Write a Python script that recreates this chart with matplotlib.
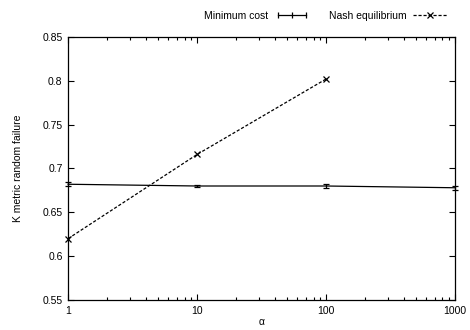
import numpy as np
import matplotlib.pyplot as plt
from matplotlib.ticker import FixedLocator, LogLocator, NullFormatter
from matplotlib.lines import Line2D
from matplotlib.legend_handler import HandlerLine2D

plt.rcParams['font.family'] = ['Liberation Sans', 'DejaVu Sans']
plt.rcParams['font.size'] = 7.5

# data
alpha_min = [1, 10, 100, 1000]
k_min = [0.682, 0.680, 0.680, 0.678]
k_min_err = [0.002, 0.0015, 0.002, 0.002]

alpha_nash = [1, 10, 100]
k_nash = [0.620, 0.716, 0.802]

yticks = [0.55, 0.6, 0.65, 0.7, 0.75, 0.8, 0.85]
ylabels = ['0.55', '0.6', '0.65', '0.7', '0.75', '0.8', '0.85']
xticks = [1, 10, 100, 1000]
xlabels = ['1', '10', '100', '1000']

fig = plt.figure(figsize=(4.7, 3.3), dpi=100)
ax = fig.add_axes([0.145, 0.091, 0.823, 0.797])

ax.errorbar(alpha_min, k_min, yerr=k_min_err, color='black', linewidth=0.9,
            capsize=2.5, elinewidth=0.9, capthick=0.9, clip_on=False)
ax.plot(alpha_nash, k_nash, color='black', linestyle=(0, (2.5, 1.5)), linewidth=0.9,
        marker='x', markersize=4, markeredgewidth=0.9, clip_on=False)

ax.set_xscale('log')
ax.set_xlim(1, 1000)
ax.set_ylim(0.55, 0.85)
ax.xaxis.set_major_locator(FixedLocator(xticks))
ax.set_xticklabels(xlabels)
ax.xaxis.set_minor_locator(LogLocator(base=10, subs=np.arange(2, 10)))
ax.xaxis.set_minor_formatter(NullFormatter())
ax.set_yticks(yticks)
ax.set_yticklabels(ylabels)

ax.tick_params(which='both', direction='in', top=True, right=True, width=0.8)
ax.tick_params(which='major', length=4, pad=4)
ax.tick_params(which='minor', length=2)
for s in ax.spines.values():
    s.set_linewidth(0.9)

ax.set_xlabel('α', labelpad=1)
ax.set_ylabel('K metric random failure', labelpad=14)

# legend handles in gnuplot style
h_min = Line2D([], [], color='black', linewidth=0.9, marker='|', markersize=4,
               markeredgewidth=0.9)
h_nash = Line2D([], [], color='black', linewidth=0.9, linestyle=(0, (2.5, 1.5)),
                marker='x', markersize=4, markeredgewidth=0.9)
ax.legend([h_min, h_nash], ['Minimum cost', 'Nash equilibrium'],
          handler_map={h_min: HandlerLine2D(numpoints=3), h_nash: HandlerLine2D(numpoints=1)},
          loc='lower right', bbox_to_anchor=(0.99, 1.045), ncol=2, frameon=False,
          markerfirst=False, handlelength=3.3, columnspacing=1.9, handletextpad=0.6,
          borderaxespad=0.0)

fig.savefig('out.png', dpi=100)
